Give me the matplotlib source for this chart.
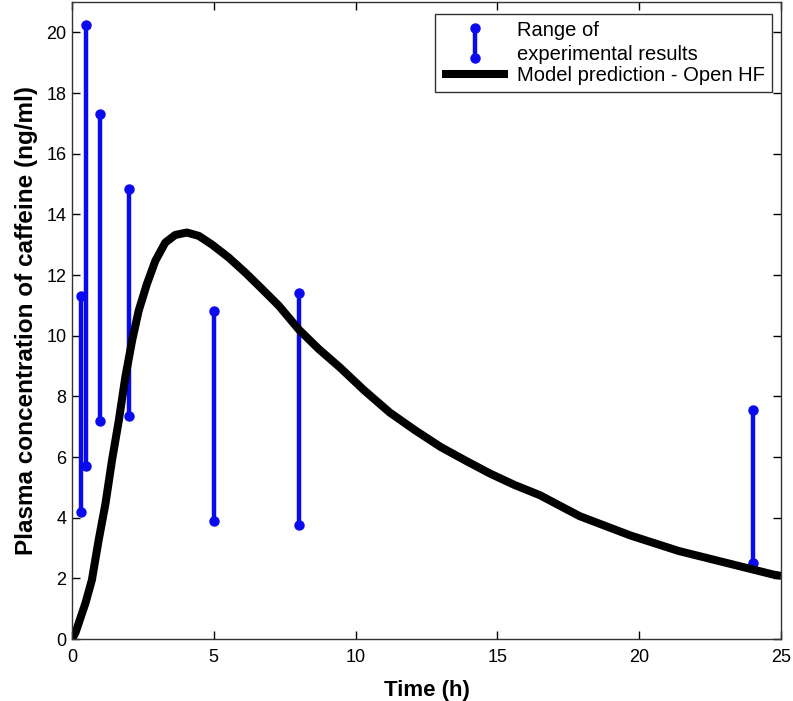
import matplotlib
matplotlib.use("Agg")
import matplotlib.pyplot as plt
from matplotlib.lines import Line2D

plt.rcParams['font.family'] = ['Liberation Sans', 'DejaVu Sans']

# Experimental ranges
exp_time = [0.33, 0.5, 1.0, 2.0, 5.0, 8.0, 24.0]
exp_low = [4.2, 5.7, 7.2, 7.35, 3.9, 3.75, 2.5]
exp_high = [11.3, 20.25, 17.3, 14.85, 10.8, 11.4, 7.55]

# Model prediction
model_time = [0, 0.12, 0.47, 0.7, 0.94, 1.18, 1.41, 1.65, 1.88, 2.12, 2.35, 2.64,
              2.94, 3.29, 3.64, 4.05, 4.47, 4.94, 5.52, 6.11, 6.7, 7.29, 8.0, 8.7,
              9.45, 10.3, 11.2, 12.1, 13.0, 13.9, 14.75, 15.6, 16.5, 17.9, 19.7,
              21.4, 23.2, 24.7, 25.0]
model_conc = [0, 0.2, 1.17, 1.94, 3.26, 4.46, 5.89, 7.2, 8.63, 9.84, 10.82, 11.7,
              12.47, 13.07, 13.32, 13.4, 13.29, 13.0, 12.58, 12.08, 11.54, 10.99,
              10.2, 9.56, 8.95, 8.2, 7.47, 6.88, 6.33, 5.87, 5.45, 5.08, 4.74, 4.05,
              3.41, 2.9, 2.48, 2.13, 2.08]

xticks = [0, 5, 10, 15, 20, 25]
yticks = [0, 2, 4, 6, 8, 10, 12, 14, 16, 18, 20]

fig = plt.figure(figsize=(7.93, 7.01), dpi=100)
ax = fig.add_axes([72/793, 62/701, (781-72)/793, (638-1)/701])

blue = '#0a0aee'
exp_handle = None
for t, lo, hi in zip(exp_time, exp_low, exp_high):
    h, = ax.plot([t, t], [lo, hi], color=blue, lw=3.2, marker='o', ms=6.5,
                 markeredgecolor=blue, markerfacecolor=blue, solid_capstyle='butt')
    if exp_handle is None:
        exp_handle = h

model_handle, = ax.plot(model_time, model_conc, color='black', lw=5.8,
                        solid_joinstyle='round', solid_capstyle='butt')

LEG_FS = 14.5


class VHandler:
    def legend_artist(self, legend, orig_handle, fontsize, handlebox):
        x0, y0 = handlebox.xdescent, handlebox.ydescent
        w, h = handlebox.width, handlebox.height
        cx = x0 + w / 2
        cy = y0 + h / 2
        d = 0.75 * fontsize
        line = Line2D([cx, cx], [cy - d, cy + d],
                      color=blue, lw=3.2, marker='o', ms=6.5,
                      transform=handlebox.get_transform())
        handlebox.add_artist(line)
        return line


leg = ax.legend([exp_handle, model_handle],
                ['Range of\nexperimental results', 'Model prediction - Open HF'],
                handler_map={exp_handle: VHandler()},
                loc='upper right', bbox_to_anchor=((772-72)/709, (639-13)/638),
                fontsize=LEG_FS, frameon=True, fancybox=False, edgecolor='black',
                handlelength=3.3, handletextpad=0.45, borderpad=0.35,
                labelspacing=0.12, borderaxespad=0.0)
leg.get_frame().set_linewidth(1.0)
for txt in leg.get_texts():
    txt.set_linespacing(1.3)

ax.set_xlim(0, 25)
ax.set_ylim(0, 21)
ax.set_xticks(xticks)
ax.set_yticks(yticks)
ax.tick_params(direction='in', length=6, width=1, top=True, right=True,
               labelsize=13)
ax.tick_params(axis='x', pad=7)
ax.tick_params(axis='y', pad=4)
for s in ax.spines.values():
    s.set_linewidth(1.0)
    s.set_color('#333333')

ax.set_xlabel('Time (h)', fontsize=16, fontweight='bold', labelpad=10)
ax.set_ylabel('Plasma concentration of caffeine (ng/ml)', fontsize=17.5,
              fontweight='bold', labelpad=6)

fig.savefig('out.png', dpi=100)
